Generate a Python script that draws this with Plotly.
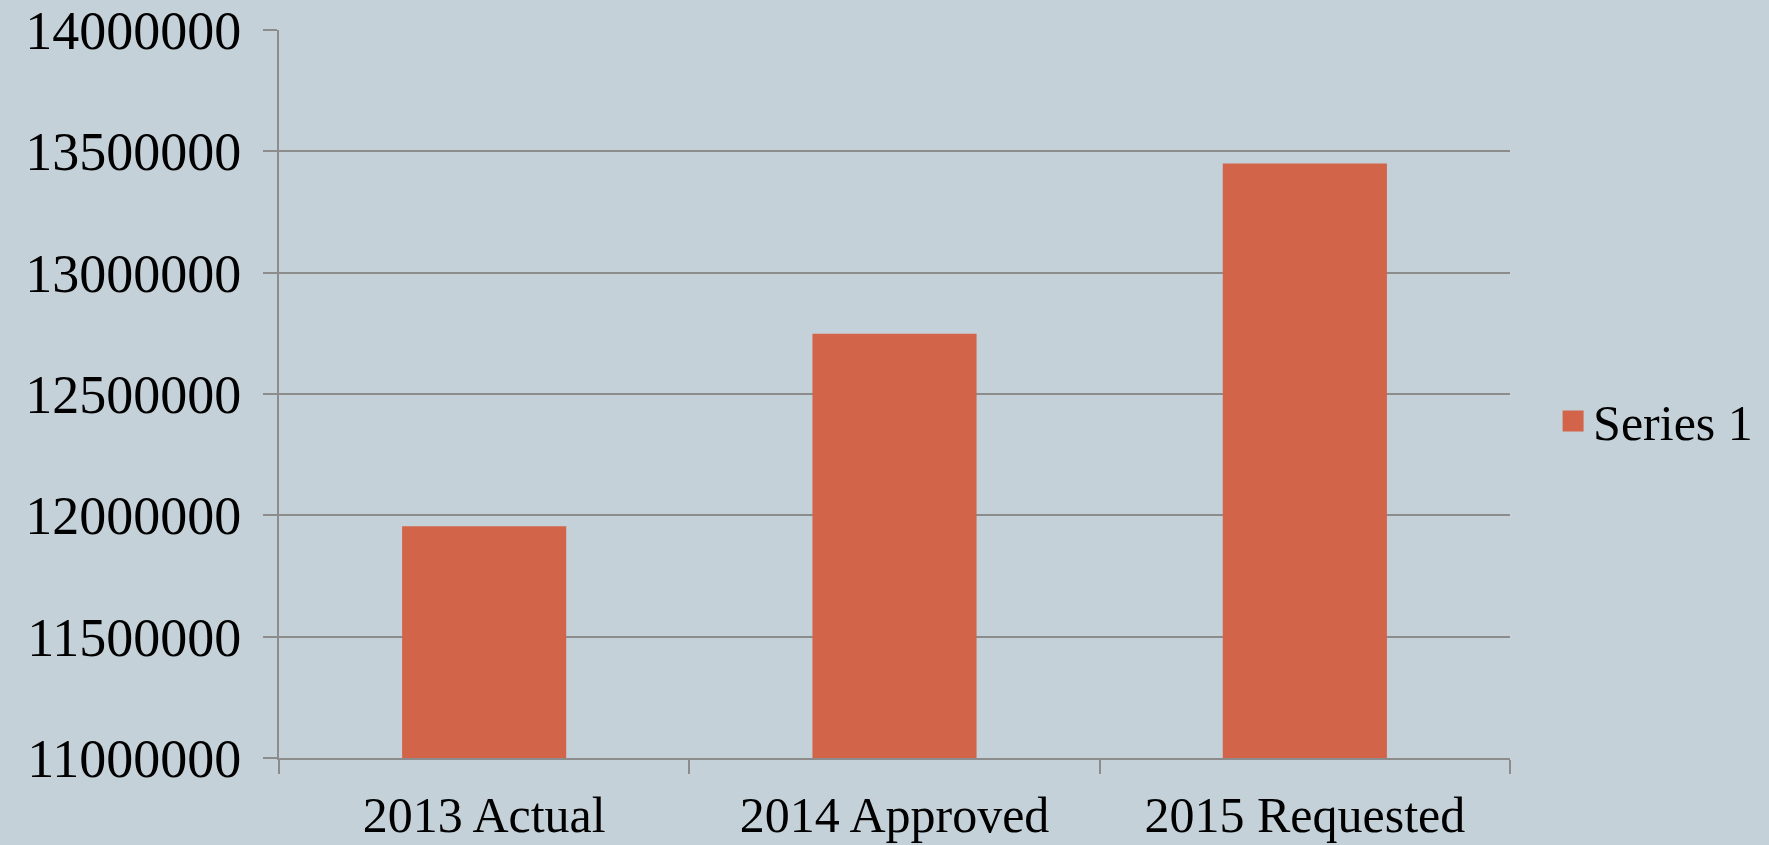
import plotly.graph_objects as go

categories = ["2013 Actual", "2014 Approved", "2015 Requested"]
series_1 = [11955000, 12748000, 13450000]
series_name = "Series 1"
y_ticks = [11000000, 11500000, 12000000, 12500000, 13000000, 13500000, 14000000]

bar_color = "#d2644a"
bg = "#c5d1d8"
grid = "#8c8c8c"
font_family = "Liberation Serif"

fig = go.Figure()
fig.add_trace(go.Bar(x=categories, y=series_1, name=series_name,
                     marker=dict(color=bar_color, line=dict(width=0)),
                     showlegend=False))
# legend entry
fig.add_trace(go.Scatter(x=[None], y=[None], mode="markers", name=series_name,
                         marker=dict(symbol="square", size=25, color=bar_color,
                                     line=dict(color=bar_color, width=5)),
                         showlegend=True))

fig.update_layout(
    width=1769, height=845,
    paper_bgcolor=bg, plot_bgcolor=bg,
    margin=dict(l=279, r=259, t=30, b=87, autoexpand=False),
    bargap=0.6,
    font=dict(family=font_family, size=50, color="black"),
    legend=dict(x=1.035, y=0.463, xanchor="left", yanchor="middle",
                font=dict(size=50), itemsizing="trace", bgcolor="rgba(0,0,0,0)"),
    xaxis=dict(type="category", range=[-0.5, 2.5], showline=True, linecolor=grid, linewidth=2,
               ticks="outside", ticklen=14, tickcolor=grid, tickwidth=1.5,
               tickson="boundaries", showgrid=False, ticklabelstandoff=12,
               automargin=False, tickfont=dict(size=50)),
    yaxis=dict(range=[11000000, 14000000], tickvals=y_ticks,
               ticktext=[str(v) for v in y_ticks],
               showline=True, linecolor=grid, linewidth=2,
               ticks="outside", ticklen=14, tickcolor=grid, tickwidth=1.5,
               showgrid=True, gridcolor=grid, gridwidth=1.5, zeroline=False,
               ticklabelstandoff=11, automargin=False, tickfont=dict(size=54)),
)

fig.write_html("out.html",
               config={"displayModeBar": False},
               post_script="document.body.style.margin='0';document.body.style.overflow='hidden';")
